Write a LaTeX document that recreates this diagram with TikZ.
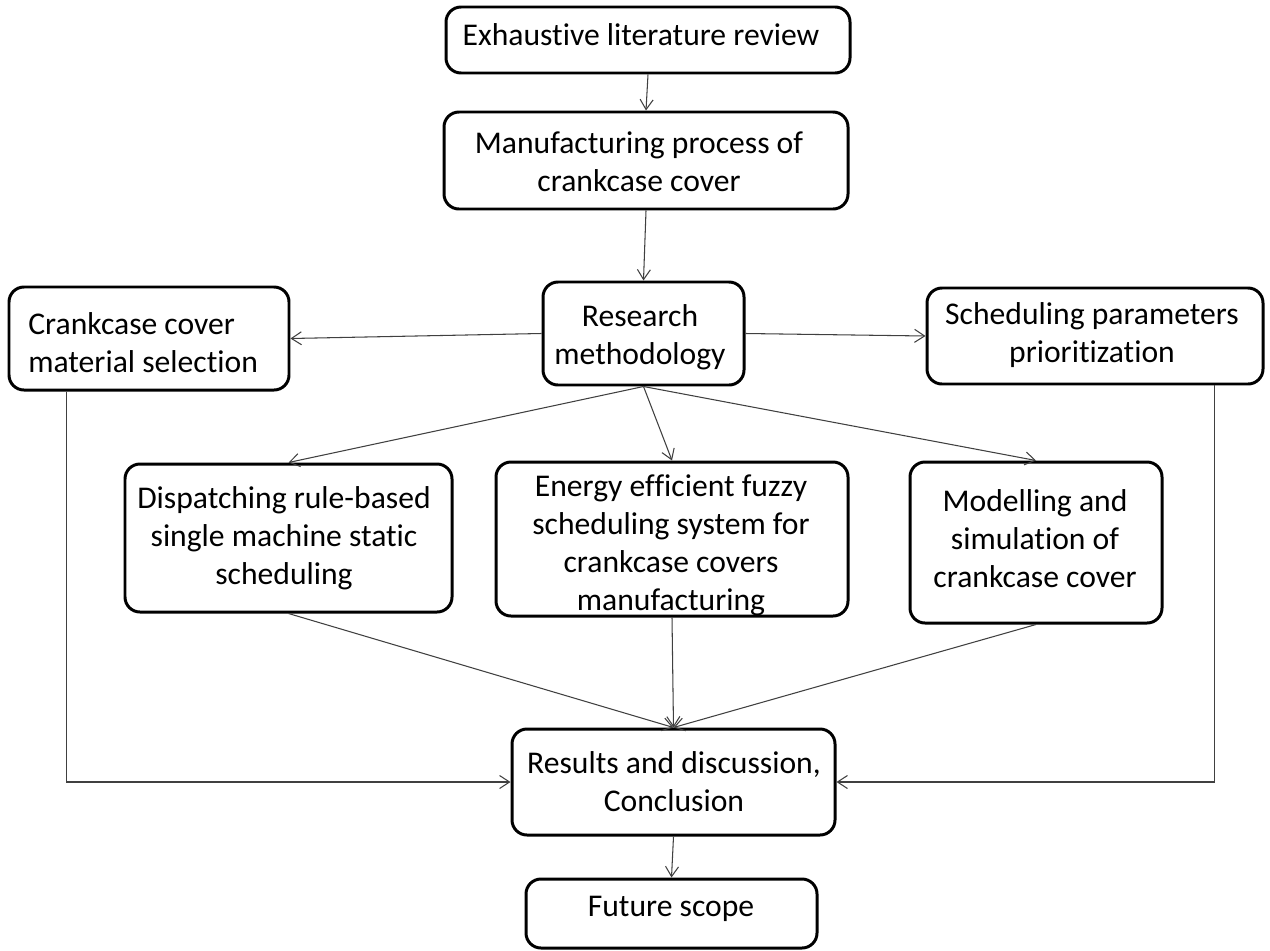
\documentclass[tikz,border=0pt]{standalone}
\usepackage{fontspec}
\setmainfont{Carlito}[Ligatures={NoCommon}]
\usetikzlibrary{arrows.meta,fit}
\begin{document}
\begin{tikzpicture}[x=0.02cm,y=-0.02cm,
  box/.style={draw=black,line width=1.7pt,rounded corners=3mm,fill=white,inner sep=0pt},
  txt/.style={font=\fontsize{18}{21.6}\selectfont,align=center,inner sep=0pt,anchor=north},
  conn/.style={draw=black!75,line width=0.6pt,-{Straight Barb[length=2mm,width=2.6mm]}}]
\useasboundingbox[fill=white] (0,0) rectangle (1270,950);

% boxes
\node[box,fit={(446,7)(850,73)}]     (lit)  {};
\node[box,fit={(444,112)(848,209)}]  (mfg)  {};
\node[box,fit={(543,282)(744,385)}]  (meth) {};
\node[box,fit={(9,287)(289,390)}]    (mat)  {};
\node[box,fit={(927,288)(1263,384)}] (par)  {};
\node[box,fit={(125,464)(452,612)}]  (dis)  {};
\node[box,fit={(496,462)(848,616)}]  (eng)  {};
\node[box,fit={(910,462)(1162,623)}] (mod)  {};
\node[box,fit={(512,729)(835,835)}]  (rd)   {};
\node[box,fit={(526,879)(817,948)}]  (fut)  {};

% connectors
\draw[conn] (lit.south) -- (mfg.north);
\draw[conn] (mfg.south) -- (meth.north);
\draw[conn] (meth.west) -- (mat.east);
\draw[conn] (meth.east) -- (par.west);
\draw[conn] (meth.south) -- (dis.north);
\draw[conn] (meth.south) -- (eng.north);
\draw[conn] (meth.south) -- (mod.north);
\draw[conn] (dis.south) -- (rd.north);
\draw[conn] (eng.south) -- (rd.north);
\draw[conn] (mod.south) -- (rd.north);
\draw[conn] ([xshift=1.18cm]mat.south west) |- (rd.west);
\draw[conn] ([xshift=-1cm]par.south east) |- (rd.east);
\draw[conn] (rd.south) -- (fut.north);

% labels
\node[txt] (lit-t)  at (641,18.4)  {\strut Exhaustive literature review};
\node[txt] (mfg-t)  at (639,126.4) {\strut Manufacturing process of\\crankcase cover};
\node[txt] (meth-t) at (640,299.4) {\strut Research\\methodology};
\node[txt,anchor=north west,align=left] (mat-t) at (28,307.4) {\strut Crankcase cover\\material selection};
\node[txt] (par-t)  at (1092,297.4) {\strut Scheduling parameters\\prioritization};
\node[txt] (dis-t)  at (284,481.4) {\strut Dispatching rule-based\\single machine static\\scheduling};
\node[txt] (eng-t)  at (671,469.4) {\strut Energy efficient fuzzy\\scheduling system for\\crankcase covers\\manufacturing};
\node[txt] (mod-t)  at (1035,484.4) {\strut Modelling and\\simulation of\\crankcase cover};
\node[txt] (rd-t)   at (674,746.4) {\strut Results and discussion,\\Conclusion};
\node[txt] (fut-t)  at (671,889.4) {\strut Future scope};
\end{tikzpicture}
\end{document}
